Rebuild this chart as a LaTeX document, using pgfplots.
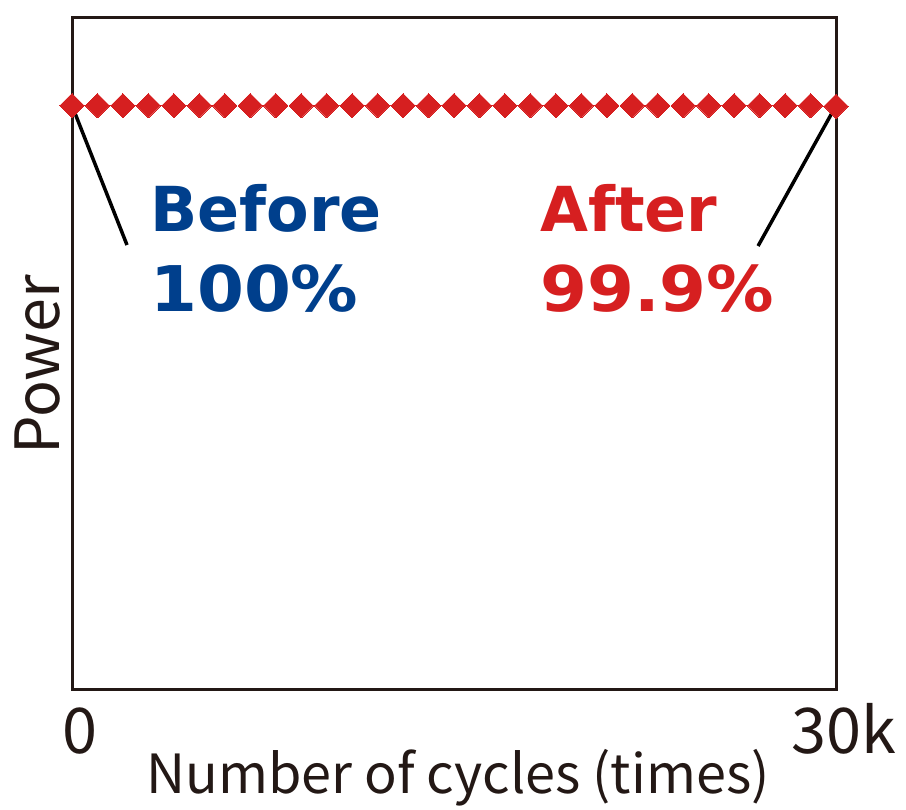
\documentclass[border=0pt]{standalone}
\usepackage{pgfplots}
\pgfplotsset{compat=1.18}
\usepackage{fontspec}
\setmainfont{Noto Sans CJK JP}
\newfontfamily\annfont{DejaVu Sans Bold}
\newfontfamily\annnum{DejaVu Sans Bold}[FakeStretch=1.07]
\definecolor{txt}{HTML}{231815}
\definecolor{myblue}{HTML}{003F8C}
\definecolor{myred}{HTML}{D61F20}
\pgfplotstableread{
x y
0 100
1 100
2 100
3 100
4 100
5 100
6 100
7 100
8 100
9 100
10 100
11 100
12 100
13 100
14 100
15 100
16 100
17 100
18 100
19 100
20 100
21 100
22 100
23 100
24 100
25 100
26 100
27 100
28 100
29 100
30 99.9
}\powerdata
\begin{document}
\begin{tikzpicture}
\useasboundingbox (0pt,0pt) rectangle (906pt,810pt);
\begin{axis}[
  at={(72pt,120pt)}, anchor=south west,
  scale only axis, width=764pt, height=672pt,
  xmin=0, xmax=30, ymin=0, ymax=115,
  clip=false,
  axis line style={line width=3pt, color=txt},
  major tick length=0pt,
  xtick={0,30}, xticklabels={0,30k},
  ytick=\empty,
  xticklabel style={anchor=base, yshift=-64pt, xshift=8pt, font=\fontsize{63}{70}\selectfont, text=txt},
  xlabel={Number of cycles (times)},
  xlabel style={at={(rel axis cs:0.5052,-0.1533)}, anchor=base, font=\fontsize{54}{60}\selectfont, text=txt},
  ylabel={Power},
  ylabel style={at={(rel axis cs:-0.0170,0.4836)}, anchor=base, rotate=0, font=\fontsize{61}{66}\selectfont, text=txt},
]
\draw[line width=3.5pt, black] (axis cs:0,100) -- (axis cs:2.16,76.15);
\draw[line width=3.5pt, black] (axis cs:30,100) -- (axis cs:26.94,75.98);
\addplot[only marks, color=myred, mark=square*, mark size=8.6pt, mark options={rotate=45, fill=myred, draw=myred, line width=0pt}] table[x=x,y=y] {\powerdata};
\node[anchor=base west, inner sep=0pt, text=myblue, font=\annfont\fontsize{62}{70}\selectfont] at (axis cs:3.063,78.38) {Before};
\node[anchor=base west, inner sep=0pt, text=myblue, font=\annnum\fontsize{63}{70}\selectfont] at (axis cs:3.063,64.69) {100\%};
\node[anchor=base west, inner sep=0pt, text=myred, font=\annfont\fontsize{62}{70}\selectfont] at (axis cs:18.38,78.38) {After};
\node[anchor=base west, inner sep=0pt, text=myred, font=\annnum\fontsize{63}{70}\selectfont] at (axis cs:18.38,64.69) {99.9\%};
\end{axis}
\end{tikzpicture}
\end{document}
